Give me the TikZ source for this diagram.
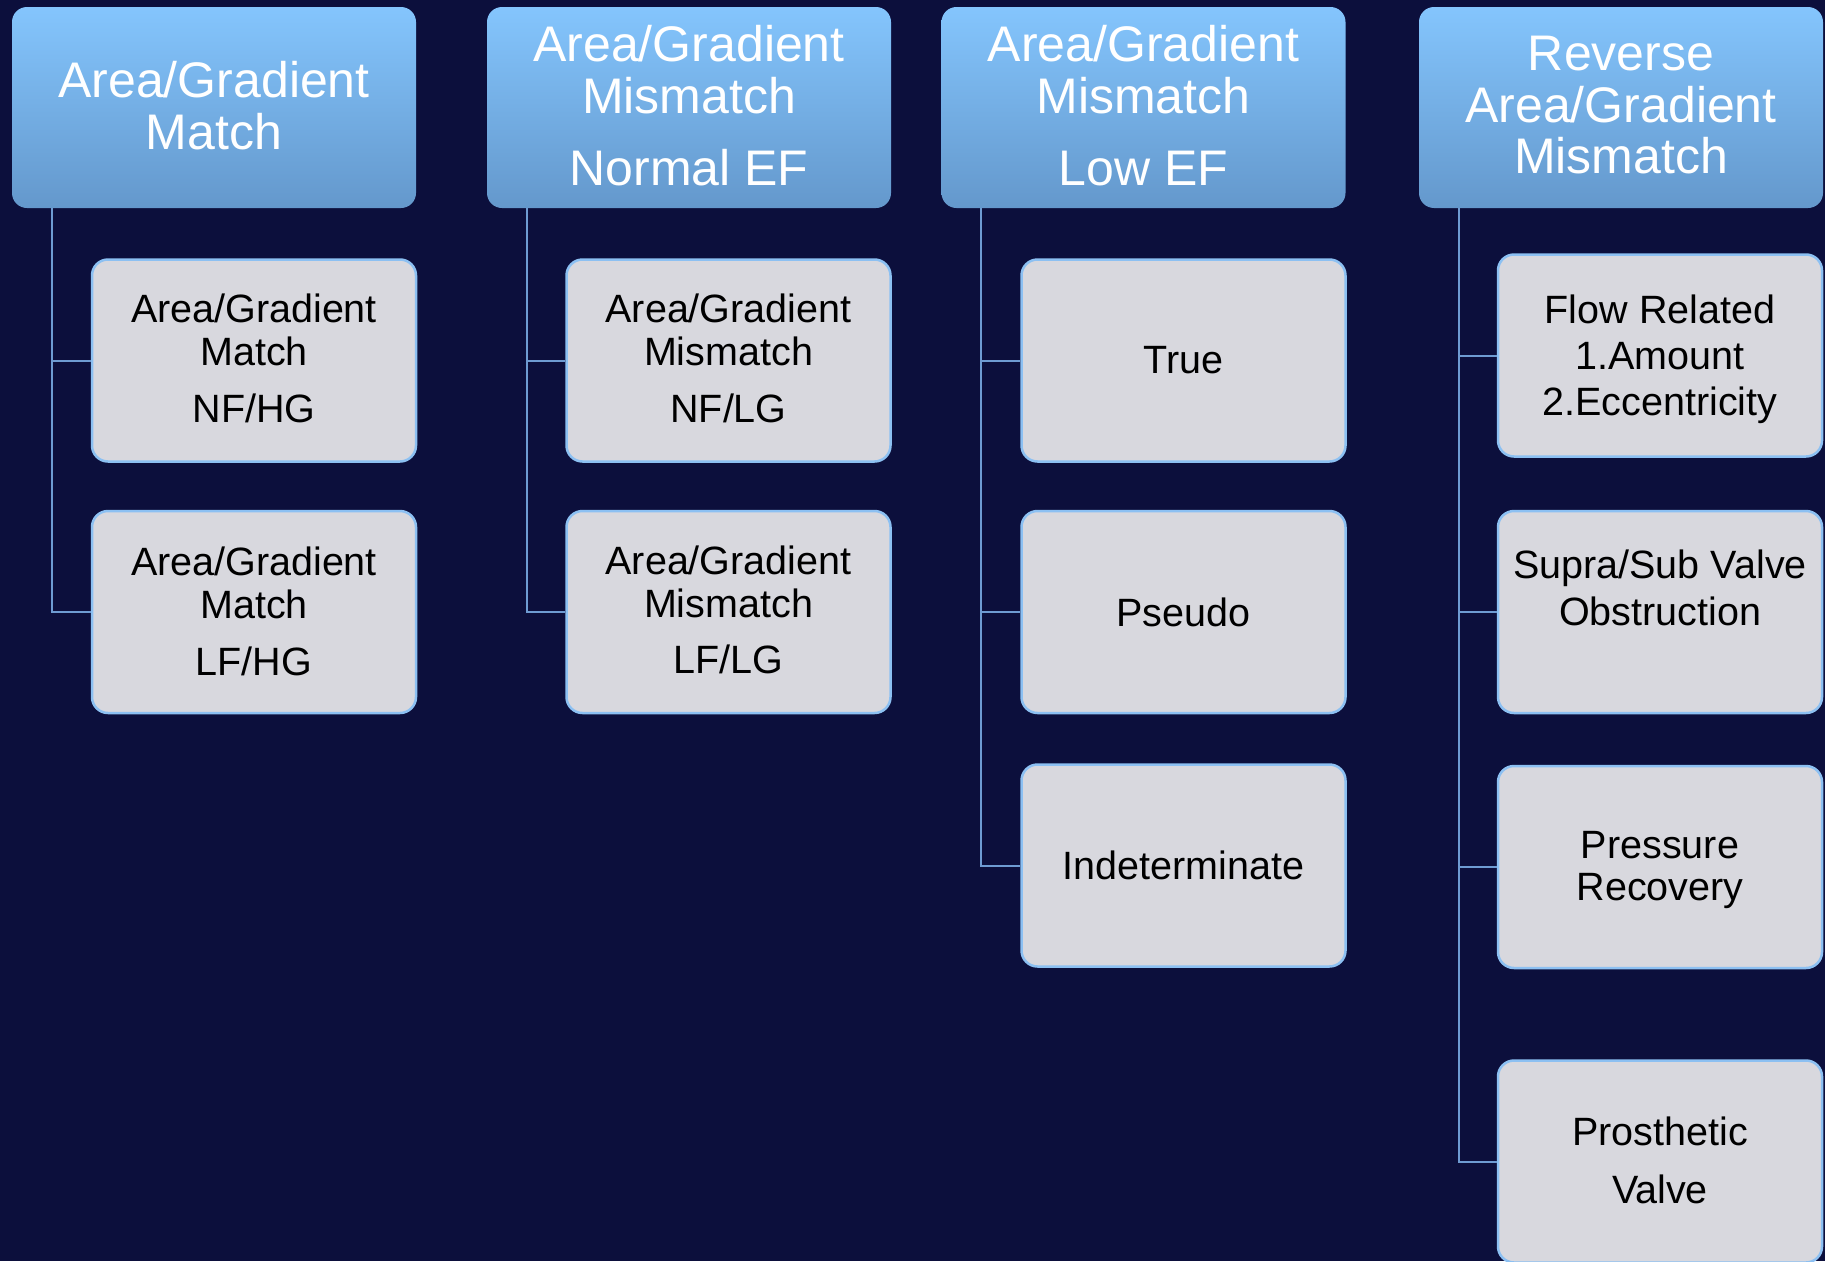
\documentclass[tikz,border=0pt]{standalone}
\usepackage{fontspec}
\setmainfont{Liberation Sans}
\begin{document}
\definecolor{navy}{RGB}{12,15,60}
\definecolor{hdtop}{RGB}{132,197,253}
\definecolor{hdmid}{RGB}{122,182,238}
\definecolor{hdbot}{RGB}{100,152,204}
\definecolor{leaffill}{RGB}{216,216,222}
\definecolor{leafline}{RGB}{140,192,242}
\definecolor{wire}{RGB}{110,155,210}
\begin{tikzpicture}[x=1pt,y=-1pt,
  hdr/.style={rectangle, rounded corners=15pt, minimum width=404pt, minimum height=201pt,
    inner sep=0pt, top color=hdtop, middle color=hdmid, bottom color=hdbot},
  leaf/.style={rectangle, rounded corners=16pt, minimum width=324pt, minimum height=202pt,
    inner sep=0pt, fill=leaffill, draw=leafline, line width=2.5pt},
  htxt/.style={anchor=base, inner sep=0pt, text=white, font=\fontsize{50}{52}\selectfont},
  ltxt/.style={anchor=base, inner sep=0pt, text=black, font=\fontsize{39.5}{44}\selectfont},
  wire/.style={draw=wire, line width=2pt}]
\fill[navy] (0,0) rectangle (1825,1261);
\useasboundingbox (0,0) rectangle (1825,1261);

% column headers
\node[hdr] (h1) at (214,107.5) {};
\node[hdr] (h2) at (689,107.5) {};
\node[hdr] (h3) at (1143.5,107.5) {};
\node[hdr] (h4) at (1621,107.5) {};

% leaf boxes
\node[leaf] (c11) at (254,360.5) {};
\node[leaf] (c12) at (254,612) {};
\node[leaf] (c21) at (728.5,360.5) {};
\node[leaf] (c22) at (728.5,612) {};
\node[leaf] (c31) at (1183.5,360.5) {};
\node[leaf] (c32) at (1183.5,612) {};
\node[leaf] (c33) at (1183.5,865.5) {};
\node[leaf] (c41) at (1660,355.5) {};
\node[leaf] (c42) at (1660,612) {};
\node[leaf] (c43) at (1660,867) {};
\node[leaf] (c44) at (1660,1161.5) {};

% tree connectors
\foreach \h/\kids in {h1/{c11,c12}, h2/{c21,c22}, h3/{c31,c32,c33}, h4/{c41,c42,c43,c44}}{
  \foreach \k in \kids {
    \draw[wire] ([xshift=40pt]\h.south west) |- (\k.west);
  }
}

% header texts
\node[htxt] (h1a) at (214,97) {Area/Gradient};
\node[htxt] (h1b) at (214,149) {Match};
\node[htxt] (h2a) at (689,61) {Area/Gradient};
\node[htxt] (h2b) at (689,113) {Mismatch};
\node[htxt] (h2c) at (689,185) {Normal EF};
\node[htxt] (h3a) at (1143.5,61) {Area/Gradient};
\node[htxt] (h3b) at (1143.5,113) {Mismatch};
\node[htxt] (h3c) at (1143.5,185) {Low EF};
\node[htxt] (h4a) at (1621,70) {Reverse};
\node[htxt] (h4b) at (1621,122) {Area/Gradient};
\node[htxt] (h4c) at (1621,173) {Mismatch};

% leaf texts
\node[ltxt] (c11a) at (254,322) {Area/Gradient};
\node[ltxt] (c11b) at (254,365) {Match};
\node[ltxt] (c11c) at (254,422) {NF/HG};
\node[ltxt] (c12a) at (254,575) {Area/Gradient};
\node[ltxt] (c12b) at (254,618) {Match};
\node[ltxt] (c12c) at (254,675) {LF/HG};
\node[ltxt] (c21a) at (728.5,322) {Area/Gradient};
\node[ltxt] (c21b) at (728.5,365) {Mismatch};
\node[ltxt] (c21c) at (728.5,422) {NF/LG};
\node[ltxt] (c22a) at (728.5,574) {Area/Gradient};
\node[ltxt] (c22b) at (728.5,617) {Mismatch};
\node[ltxt] (c22c) at (728.5,673) {LF/LG};
\node[ltxt] (c31a) at (1183.5,373) {True};
\node[ltxt] (c32a) at (1183.5,626) {Pseudo};
\node[ltxt] (c33a) at (1183.5,879) {Indeterminate};
\node[ltxt] (c41a) at (1660,323) {Flow Related};
\node[ltxt] (c41b) at (1660,369) {1.Amount};
\node[ltxt] (c41c) at (1660,415) {2.Eccentricity};
\node[ltxt] (c42a) at (1660,578) {Supra/Sub Valve};
\node[ltxt] (c42b) at (1660,625) {Obstruction};
\node[ltxt] (c43a) at (1660,858) {Pressure};
\node[ltxt] (c43b) at (1660,900) {Recovery};
\node[ltxt] (c44a) at (1660,1145) {Prosthetic};
\node[ltxt] (c44b) at (1660,1203) {Valve};
\end{tikzpicture}
\end{document}
